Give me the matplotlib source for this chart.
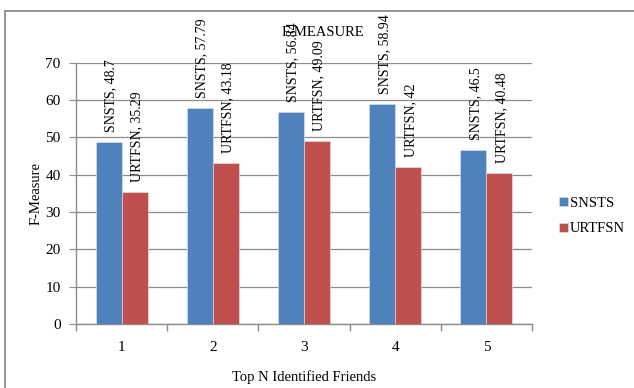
import matplotlib
matplotlib.use("Agg")
import matplotlib.pyplot as plt
from matplotlib.patches import Rectangle
from matplotlib.transforms import offset_copy
import numpy as np

categories = ["1", "2", "3", "4", "5"]
snsts = [48.7, 57.79, 56.84, 58.94, 46.5]
urtfsn = [35.29, 43.18, 49.09, 42, 40.48]
series_names = ["SNSTS", "URTFSN"]
colors = ["#4F81BD", "#C0504D"]

plt.rcParams["font.family"] = ["Liberation Serif", "DejaVu Serif"]

W, H = 634, 388
fig = plt.figure(figsize=(W / 100, H / 100), dpi=100)

# outer chart frame
fig.patches.append(Rectangle((5 / W, -0.1), 1.2, 1 - 10.5 / H + 0.1,
                             transform=fig.transFigure, fill=False,
                             edgecolor="#8c8c8c", linewidth=1.3))

ax = fig.add_axes([76 / W, 1 - 324 / H, 456 / W, 261.3 / H])
x = np.arange(len(categories))
bw = 0.285
for i, (vals, name, c) in enumerate(zip([snsts, urtfsn], series_names, colors)):
    pos = x + (i - 0.5) * bw
    ax.bar(pos, vals, width=bw, color=c, edgecolor="#dfe6f0", linewidth=0.4,
           label=name, zorder=3)
    trans = offset_copy(ax.transData, fig=fig, x=2, y=10, units="dots")
    for p, v in zip(pos, vals):
        ax.text(p, v, f"{name}, {v:g}", rotation=90, ha="center", va="bottom",
                fontsize=10, color="black", transform=trans, zorder=4)

ax.set_xlim(-0.5, len(categories) - 0.5)
ax.set_ylim(0, 70)
ax.set_yticks(range(0, 71, 10))
ax.set_xticks(x)
ax.set_xticklabels(categories)
ax.set_xticks(np.arange(-0.5, len(categories), 1), minor=True)
ax.tick_params(axis="x", which="major", length=0, pad=12, labelsize=11)
ax.tick_params(axis="x", which="minor", length=5, color="#8c8c8c", width=1)
ax.tick_params(axis="y", length=5, color="#8c8c8c", labelsize=11, pad=6)
ax.yaxis.grid(True, color="#8c8c8c", linewidth=0.9, zorder=0)
for s in ["top", "right"]:
    ax.spines[s].set_visible(False)
for s in ["left", "bottom"]:
    ax.spines[s].set_color("#8c8c8c")
    ax.spines[s].set_linewidth(1)

ax.set_ylabel("F-Measure", fontsize=10.5, labelpad=2)
ax.set_xlabel("Top N Identified Friends", fontsize=10.5, labelpad=12)

fig.text(323 / W, 1 - 33 / H, "F-MEASURE", ha="center", va="center", fontsize=10.5)

leg = fig.legend(loc="upper left", bbox_to_anchor=(559 / W, 1 - 197 / H),
                 frameon=False, fontsize=10.5, handlelength=0.6, handleheight=0.6,
                 handletextpad=0.15, labelspacing=0.85, borderaxespad=0, borderpad=0)

fig.savefig("out.png", dpi=100)
